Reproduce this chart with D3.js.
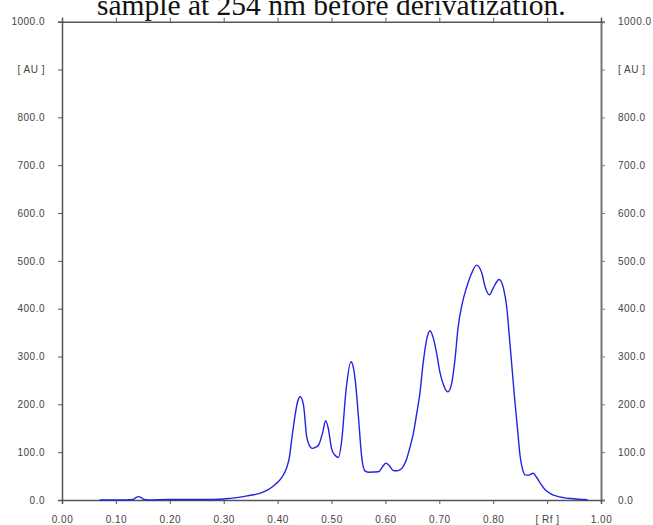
<!DOCTYPE html>
<html>
<head>
<meta charset="utf-8">
<script src="https://cdn.jsdelivr.net/npm/d3@7"></script>
<style>
  html, body { margin: 0; padding: 0; background: #fff; }
  svg { display: block; }
</style>
</head>
<body>
<svg id="chart" width="653" height="525"></svg>
<script>
// ---- data ----
const rf = [0.070,0.120,0.132,0.137,0.142,0.147,0.152,0.160,0.200,0.240,0.280,0.300,0.312,0.330,0.343,0.356,0.367,0.378,0.386,0.396,0.405,0.412,0.417,0.422,0.426,0.432,0.437,0.442,0.448,0.454,0.460,0.464,0.470,0.476,0.484,0.489,0.494,0.500,0.506,0.513,0.519,0.527,0.536,0.540,0.544,0.550,0.556,0.562,0.570,0.587,0.595,0.601,0.607,0.614,0.620,0.627,0.633,0.640,0.646,0.652,0.658,0.664,0.670,0.677,0.683,0.689,0.695,0.701,0.708,0.716,0.723,0.729,0.735,0.742,0.751,0.760,0.769,0.779,0.785,0.793,0.800,0.811,0.819,0.825,0.831,0.836,0.840,0.845,0.850,0.855,0.860,0.866,0.874,0.880,0.887,0.896,0.907,0.918,0.930,0.943,0.958,0.975];
const au = [0,0,1,5,7,5,1,0,1,1,1,2,3.5,6,8.5,11,14,19,24,33,43,55,68,90,125,174,205,216,199,132,112,108,110,115,143,166,150,108,94,89,125,230,289,280,251,174,90,61,58,59,70,77,72,62,61,63,70,88,112,140,180,223,286,338,354,338,307,268,240,226,244,293,362,408,446,474,491,474,446,429,443,461,443,404,328,262,209,150,91,62,52,52,56,48,36,22,13,8,5,3,1.5,0.5];
const xTicks = [0,0.1,0.2,0.3,0.4,0.5,0.6,0.7,0.8,0.9,1.0];
const xTickLabels = ["0.00","0.10","0.20","0.30","0.40","0.50","0.60","0.70","0.80","[ Rf ]","1.00"];
const yTicks = [0,100,200,300,400,500,600,700,800,900,1000];
const yTickLabels = ["0.0","100.0","200.0","300.0","400.0","500.0","600.0","700.0","800.0","[ AU ]","1000.0"];
const titleText = "sample at 254 nm before derivatization.";

// ---- layout ----
const svg = d3.select("#chart");
const L = 62, R = 601, T = 21.7, B = 500;
const x = d3.scaleLinear().domain([0, 1]).range([L, R]);
const y = d3.scaleLinear().domain([0, 1000]).range([B, T]);

const fontAxis = "'Liberation Sans', Arial, sans-serif";

// title (caption cropped at the top edge, as in the reference)
svg.append("text")
  .attr("x", 97).attr("y", 15)
  .attr("font-family", "'Liberation Serif', 'Times New Roman', serif")
  .attr("font-size", 29.5)
  .attr("fill", "#111")
  .text(titleText);

function styleAxis(g, color, width) {
  g.selectAll("path.domain").attr("stroke", color).attr("stroke-width", width);
  g.selectAll(".tick line").attr("stroke", color).attr("stroke-width", 1);
  g.selectAll(".tick text")
    .attr("fill", "#444")
    .attr("font-family", fontAxis)
    .attr("font-size", 10)
    .attr("letter-spacing", "0.5px");
}

// left axis
const gl = svg.append("g").attr("transform", `translate(${L},0)`)
  .call(d3.axisLeft(y).tickValues(yTicks).tickSize(4).tickPadding(13)
    .tickFormat((d, i) => yTickLabels[i]));
styleAxis(gl, "#555", 1.5);

// right axis
const gr = svg.append("g").attr("transform", `translate(${R},0)`)
  .call(d3.axisRight(y).tickValues(yTicks).tickSize(4).tickPadding(13)
    .tickFormat((d, i) => yTickLabels[i]));
styleAxis(gr, "#777", 2);

// top axis (ticks only)
const gt = svg.append("g").attr("transform", `translate(0,${T})`)
  .call(d3.axisTop(x).tickValues(xTicks).tickSize(4).tickFormat(""));
styleAxis(gt, "#555", 1.5);

// bottom axis
const gb = svg.append("g").attr("transform", `translate(0,${B})`)
  .call(d3.axisBottom(x).tickValues(xTicks).tickSize(4).tickPadding(12)
    .tickFormat((d, i) => xTickLabels[i]));
styleAxis(gb, "#555", 1.5);

// curve
const pts = rf.map((r, i) => [r, au[i]]);
const line = d3.line()
  .x(d => x(d[0]))
  .y(d => y(d[1]))
  .curve(d3.curveMonotoneX);

svg.append("path")
  .datum(pts)
  .attr("fill", "none")
  .attr("stroke", "#2323e0")
  .attr("stroke-width", 1.4)
  .attr("stroke-linejoin", "round")
  .attr("d", line);
</script>
</body>
</html>
